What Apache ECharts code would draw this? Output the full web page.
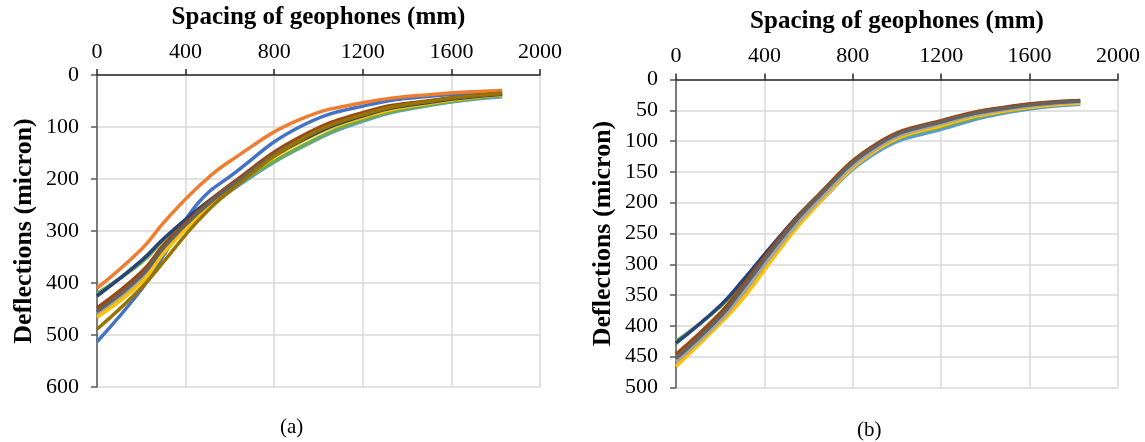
<!DOCTYPE html>
<html>
<head>
    <meta charset="utf-8">
    <title>Deflection basins</title>
    <script src="https://cdn.jsdelivr.net/npm/echarts@6/dist/echarts.min.js"></script>
    <style>
      body { margin: 0; background: #fff; }
    </style>
</head>
<body>
    <div id="main" style="width:1145px;height:442px;"></div>
    <script type="text/javascript">
      // geophone offsets (mm)
      var spacing = [0, 203, 305, 457, 610, 914, 1219, 1524, 1829];

      // chart (a) deflections (micron)
      var aBlue      = [513, 411, 344, 246, 192, 100, 58, 40, 33];
      var aOrange    = [410, 334, 282, 215, 163, 86, 52, 37, 30];
      var aGray      = [458, 390, 330, 266, 213, 128, 77, 51, 38];
      var aYellow    = [466, 398, 340, 272, 216, 130, 79, 53, 38];
      var aLightBlue = [462, 393, 336, 274, 221, 141, 86, 57, 42];
      var aGreen     = [420, 360, 316, 263, 217, 139, 84, 56, 40];
      var aDarkBlue  = [425, 356, 313, 258, 210, 128, 76, 51, 37];
      var aBrown     = [448, 378, 325, 262, 208, 120, 70, 48, 35];
      var aDarkGray  = [455, 385, 330, 265, 212, 125, 74, 49, 36];
      var aOlive     = [489, 408, 357, 280, 220, 126, 74, 49, 35];

      // chart (b) deflections (micron)
      var bDarkBlue  = [428, 366, 325, 260, 200, 104, 66, 44, 35];
      var bGreen     = [425, 368, 328, 265, 207, 113, 75, 50, 38];
      var bBrown     = [446, 378, 333, 263, 200, 103, 65, 43, 34];
      var bLightBlue = [460, 390, 348, 278, 214, 117, 79, 52, 40];
      var bYellow    = [466, 395, 355, 282, 215, 113, 73, 49, 38];
      var bGray      = [458, 390, 345, 275, 210, 110, 70, 47, 36];
      var bDarkGray  = [453, 384, 338, 267, 203, 106, 67, 45, 35];

      var serif = '"Liberation Serif", "DejaVu Serif", serif';

      function pairs(ys) {
        return spacing.map(function (x, i) { return [x, ys[i]]; });
      }
      function line(idx, color, ys) {
        return {
          type: 'line', xAxisIndex: idx, yAxisIndex: idx, data: pairs(ys),
          smooth: 0.45, showSymbol: false, silent: true,
          lineStyle: { color: color, width: 3.5 }
        };
      }
      function plain(v) { return String(v); }
      function xAx(idx) {
        return {
          gridIndex: idx, type: 'value', position: 'top', min: 0, max: 2000, interval: 400,
          name: 'Spacing of geophones (mm)', nameLocation: 'middle', nameGap: 45,
          nameTextStyle: { fontFamily: serif, fontSize: 25, fontWeight: 'bold', color: '#000' },
          axisLine: { show: true, lineStyle: { color: '#262626', width: 1.5 } },
          axisTick: { show: true, inside: false, length: 6, lineStyle: { color: '#262626', width: 1.5 } },
          axisLabel: { fontFamily: serif, fontSize: 22, color: '#000', margin: 12, formatter: plain },
          splitLine: { show: true, lineStyle: { color: '#d9d9d9', width: 1.5 } }
        };
      }
      function yAx(idx, max, step) {
        return {
          gridIndex: idx, type: 'value', inverse: true, min: 0, max: max, interval: step,
          name: 'Deflections (micron)', nameLocation: 'middle', nameGap: 60, nameRotate: 90,
          nameTextStyle: { fontFamily: serif, fontSize: 26, fontWeight: 'bold', color: '#000' },
          axisLine: { show: true, lineStyle: { color: '#595959', width: 1.5 } },
          axisTick: { show: true, inside: false, length: 6, lineStyle: { color: '#595959', width: 1.5 } },
          axisLabel: { fontFamily: serif, fontSize: 22, color: '#000', margin: 18, formatter: plain },
          splitLine: { show: true, lineStyle: { color: '#d9d9d9', width: 1.5 } }
        };
      }

      var chart = echarts.init(document.getElementById('main'));
      var option = {
        backgroundColor: '#fff',
        animation: false,
        title: [
          { text: '(a)', left: 275, top: 412, textStyle: { fontFamily: serif, fontSize: 21, fontWeight: 'normal', color: '#000' } },
          { text: '(b)', left: 852, top: 415, textStyle: { fontFamily: serif, fontSize: 21, fontWeight: 'normal', color: '#000' } }
        ],
        grid: [
          { left: 97, top: 75, width: 443, height: 312 },
          { left: 676, top: 79.5, width: 442, height: 308 }
        ],
        xAxis: [xAx(0), xAx(1)],
        yAxis: [yAx(0, 600, 100), yAx(1, 500, 50)],
        series: [
          line(0, '#4472C4', aBlue),
          line(0, '#ED7D31', aOrange),
          line(0, '#5B9BD5', aLightBlue),
          line(0, '#70AD47', aGreen),
          line(0, '#A5A5A5', aGray),
          line(0, '#FFC000', aYellow),
          line(0, '#264478', aDarkBlue),
          line(0, '#9E480E', aBrown),
          line(0, '#636363', aDarkGray),
          line(0, '#997300', aOlive),

          line(1, '#5B9BD5', bLightBlue),
          line(1, '#70AD47', bGreen),
          line(1, '#FFC000', bYellow),
          line(1, '#A5A5A5', bGray),
          line(1, '#264478', bDarkBlue),
          line(1, '#9E480E', bBrown),
          line(1, '#636363', bDarkGray)
        ]
      };
      chart.setOption(option);
    </script>
</body>
</html>
